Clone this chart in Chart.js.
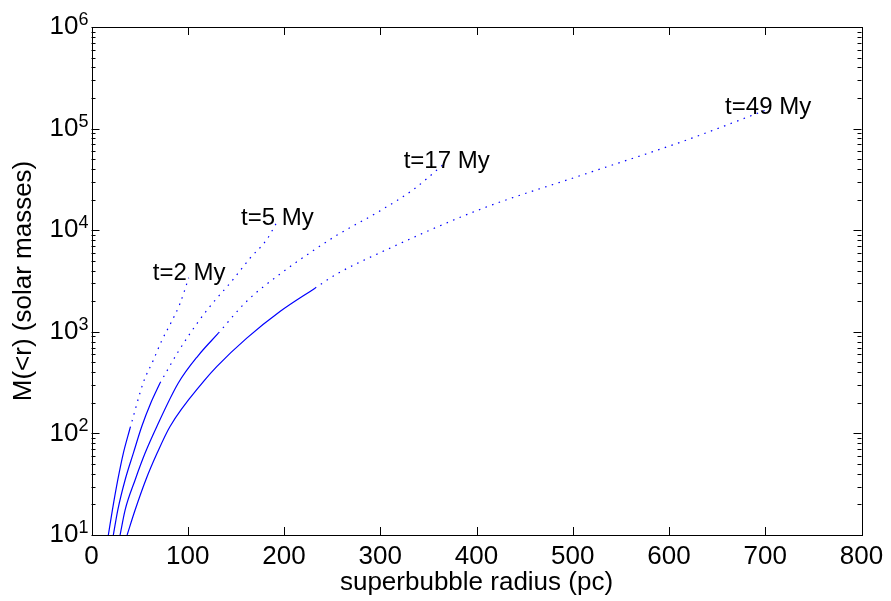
<!DOCTYPE html>
<html>
<head>
<meta charset="utf-8">
<script src="https://cdn.jsdelivr.net/npm/chart.js@4.4.1/dist/chart.umd.min.js"></script>
<style>
    html, body { margin: 0; padding: 0; background: #fff; }
    #wrap { width: 891px; height: 601px; }
</style>
</head>
<body>
<div id="wrap"><canvas id="massChart" width="891" height="601"></canvas></div>
<script>
// superbubble radius (pc) vs enclosed mass, solid part then dotted part
const r2Solid = [17.5, 21.7, 27.3, 33.1, 40.1];
const m2Solid = [10, 17.6, 34.8, 64, 113];
const r2Dot = [40.1, 54, 64, 73, 83, 92, 101];
const m2Dot = [113, 320, 520, 820, 1250, 1900, 3400];

const r5Solid = [22.7, 27.3, 34.9, 43.5, 52.2, 61.6, 71.2];
const m5Solid = [10, 17.6, 34.8, 64, 117, 199, 313];
const r5Dot = [71.2, 90.2, 111, 126.6, 145.7, 164.7, 182, 192.4];
const m5Dot = [313, 640, 1260, 1950, 3150, 5300, 8060, 11900];

const r17Solid = [29.7, 34.9, 45.3, 55.7, 67.9, 90.2, 110.7, 131.8];
const m17Solid = [10, 17.6, 34.8, 64, 117, 313, 581, 970];
const r17Dot = [131.8, 161.3, 195.8, 230.4, 254.7, 299.7, 334.3, 365.4];
const m17Dot = [970, 2000, 3700, 6300, 8900, 15500, 25100, 44200];

const r49Solid = [37, 45.3, 56.4, 68.2, 81.6, 116.9, 130.1, 161.3, 195.8, 232.2];
const m49Solid = [10, 17.6, 34.8, 64, 117, 329, 455, 867, 1585, 2690];
const r49Dot = [232.2, 254.7, 299.7, 403.5, 510.8, 614.6, 702.9];
const m49Dot = [2690, 3700, 6000, 16000, 35200, 75000, 155000];

// curve labels, anchored at (radius, mass) of the text baseline centre
const labelText = ['t=2 My', 't=5 My', 't=17 My', 't=49 My'];
const labelR = [101.4, 193.1, 369, 703];
const labelM = [3250, 11300, 40800, 140600];

const xTicks = [0, 100, 200, 300, 400, 500, 600, 700, 800];
const yExponents = [1, 2, 3, 4, 5, 6];

const FONT = '"Liberation Sans", Arial, Helvetica, sans-serif';
const BLUE = '#0000ff';

function toPoints(xs, ys) {
    return xs.map((v, i) => ({ x: v, y: ys[i] }));
}

function solidSet(xs, ys) {
    return {
        data: toPoints(xs, ys),
        borderColor: BLUE,
        borderWidth: 1.2,
        pointRadius: 0,
        cubicInterpolationMode: 'monotone',
        fill: false
    };
}

function dotSet(xs, ys) {
    return {
        data: toPoints(xs, ys),
        borderColor: BLUE,
        borderWidth: 1.2,
        borderDash: [1.5, 5.5],
        pointRadius: 0,
        cubicInterpolationMode: 'monotone',
        fill: false
    };
}

// box, inward ticks, y labels with exponent, curve labels
const framePlugin = {
    id: 'frame',
    afterDraw(chart) {
        const { ctx, chartArea: a, scales: { x, y } } = chart;
        ctx.save();
        ctx.strokeStyle = '#000';
        ctx.lineWidth = 1;
        ctx.beginPath();
        xTicks.forEach(v => {
            const px = Math.round(x.getPixelForValue(v)) + 0.5;
            ctx.moveTo(px, a.bottom); ctx.lineTo(px, a.bottom - 8);
            ctx.moveTo(px, a.top); ctx.lineTo(px, a.top + 8);
        });
        yExponents.forEach(e => {
            for (let k = 1; k <= 9; k++) {
                const v = k * Math.pow(10, e);
                if (v > 1e6) break;
                const py = Math.round(y.getPixelForValue(v)) + 0.5;
                const len = k === 1 ? 8 : 4;
                ctx.moveTo(a.left, py); ctx.lineTo(a.left + len, py);
                ctx.moveTo(a.right, py); ctx.lineTo(a.right - len, py);
            }
        });
        ctx.stroke();
        ctx.strokeRect(Math.round(a.left) + 0.5, Math.round(a.top) + 0.5,
            Math.round(a.right - a.left), Math.round(a.bottom - a.top));

        // y tick labels 10^n
        ctx.fillStyle = '#000';
        yExponents.forEach(e => {
            const py = y.getPixelForValue(Math.pow(10, e));
            ctx.font = '18px ' + FONT;
            ctx.textAlign = 'right';
            ctx.textBaseline = 'alphabetic';
            const expW = ctx.measureText(String(e)).width;
            ctx.fillText(String(e), a.left - 3, py - 2);
            ctx.font = '26px ' + FONT;
            ctx.textBaseline = 'middle';
            ctx.fillText('10', a.left - 3 - expW, py);
        });

        // curve labels
        ctx.font = '24px ' + FONT;
        ctx.textAlign = 'center';
        ctx.textBaseline = 'alphabetic';
        labelText.forEach((t, i) => {
            ctx.fillText(t, x.getPixelForValue(labelR[i]), y.getPixelForValue(labelM[i]));
        });
        ctx.restore();
    }
};

new Chart(document.getElementById('massChart'), {
    type: 'line',
    data: {
        datasets: [
            solidSet(r2Solid, m2Solid), dotSet(r2Dot, m2Dot),
            solidSet(r5Solid, m5Solid), dotSet(r5Dot, m5Dot),
            solidSet(r17Solid, m17Solid), dotSet(r17Dot, m17Dot),
            solidSet(r49Solid, m49Solid), dotSet(r49Dot, m49Dot)
        ]
    },
    options: {
        responsive: false,
        animation: false,
        layout: { padding: { left: 0, right: 29.5, top: 27, bottom: 0 } },
        plugins: {
            legend: { display: false },
            tooltip: { enabled: false }
        },
        scales: {
            x: {
                type: 'linear',
                min: 0,
                max: 800,
                grid: { display: false, drawTicks: false },
                border: { display: false },
                afterBuildTicks: scale => { scale.ticks = xTicks.map(v => ({ value: v })); },
                afterFit: scale => { scale.height = 66; },
                ticks: {
                    color: '#000',
                    font: { family: FONT, size: 26 },
                    padding: 6,
                    maxRotation: 0
                },
                title: {
                    display: true,
                    text: 'superbubble radius (pc)',
                    color: '#000',
                    font: { family: FONT, size: 26, lineHeight: 1.2 },
                    padding: { top: 0, bottom: 3 }
                }
            },
            y: {
                type: 'logarithmic',
                min: 10,
                max: 1e6,
                grid: { display: false, drawTicks: false },
                border: { display: false },
                afterBuildTicks: scale => { scale.ticks = yExponents.map(e => ({ value: Math.pow(10, e) })); },
                afterFit: scale => { scale.width = 91.5; },
                ticks: { display: false },
                title: {
                    display: true,
                    text: 'M(<r) (solar masses)',
                    color: '#000',
                    font: { family: FONT, size: 26, lineHeight: 1.2 },
                    padding: { top: 8, bottom: 0 }
                }
            }
        }
    },
    plugins: [framePlugin]
});
</script>
</body>
</html>
